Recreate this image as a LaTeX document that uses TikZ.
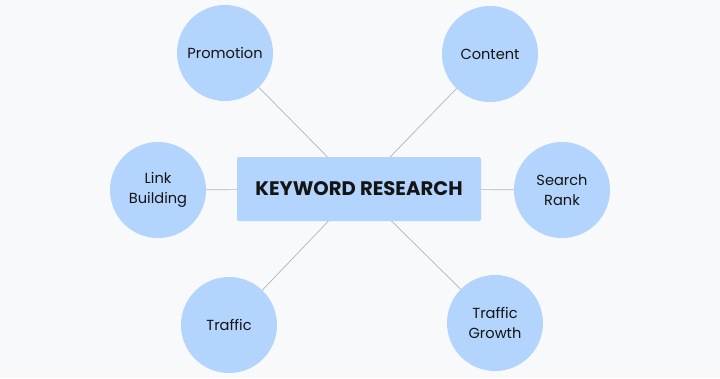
\documentclass[tikz,border=0pt]{standalone}
\usepackage{fontspec}
\setmainfont{Poppins}
\usetikzlibrary{backgrounds}
\definecolor{bg}{HTML}{F8F9FB}
\definecolor{bubble}{HTML}{B3D4FC}
\definecolor{conn}{HTML}{B4B4B4}
\definecolor{ink}{HTML}{141414}
\begin{document}
\begin{tikzpicture}[x=1pt,y=-1pt,
  bubblenode/.style={circle,fill=bubble,minimum size=96pt,inner sep=0pt,align=center,
    text=ink,font=\fontsize{14.6}{19.5}\selectfont},
  hubnode/.style={rectangle,rounded corners=2pt,fill=bubble,minimum width=244pt,minimum height=64pt,
    inner sep=0pt,text=ink,font=\fontsize{19.6}{22}\selectfont\bfseries},
  link/.style={draw=conn,line width=0.7pt}]
\useasboundingbox (0,0) rectangle (720,378);
\node[hubnode] (hub) at (359,189) {KEYWORD RESEARCH};
\node[bubblenode] (promo) at (225,53) {Promotion};
\node[bubblenode] (content) at (490,54) {Content};
\node[bubblenode] (link) at (158,190) {Link\\Building};
\node[bubblenode] (search) at (562,190) {Search\\Rank};
\node[bubblenode] (traffic) at (229,325) {Traffic};
\node[bubblenode] (growth) at (495,323) {Traffic\\Growth};
\begin{scope}[on background layer]
\fill[bg] (0,0) rectangle (720,378);
\foreach \n in {promo,content,link,search,traffic,growth}{
  \draw[link] (\n.center) -- (hub.center);
}
\end{scope}
\end{tikzpicture}
\end{document}
